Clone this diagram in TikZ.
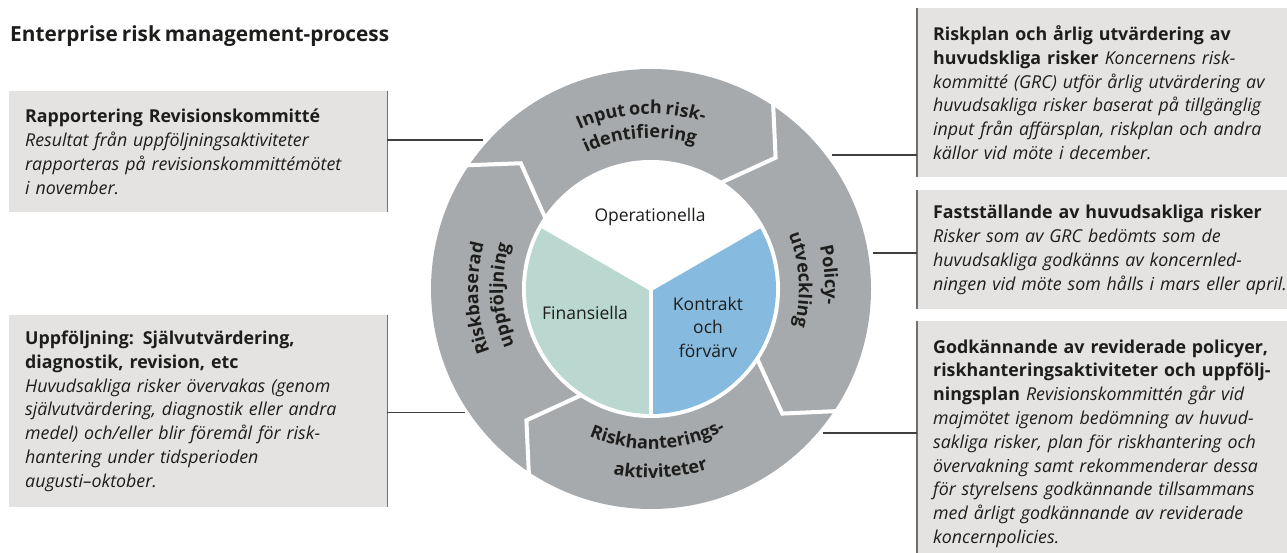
\documentclass[tikz,border=0pt]{standalone}
\usepackage{fontspec}
\setmainfont{Open Sans}[WordSpace=0.75]
\usetikzlibrary{decorations.text}

\definecolor{ringgray}{HTML}{A7AAAD}
\definecolor{boxgray}{HTML}{E4E3E1}
\definecolor{finance}{HTML}{BBD8D0}
\definecolor{contract}{HTML}{86BBDF}
\definecolor{edgegray}{HTML}{707070}
\definecolor{textblack}{HTML}{1D1D1B}

\newcommand{\boxfont}{\fontsize{17.8}{23.8}\selectfont}
\newcommand{\ringfont}{\fontsize{18}{20}\selectfont\bfseries}
\newcommand{\piefont}{\fontsize{17.5}{23.5}\selectfont}

\tikzset{
    infobox/.style={fill=boxgray, text=textblack, font=\boxfont, align=left,
        text width=362pt, inner xsep=16pt, inner ysep=4pt, anchor=north west},
    boxedge/.style={draw=edgegray, line width=1.5pt},
    conn/.style={draw=textblack!85, line width=1.1pt},
    sep/.style={draw=white, line width=4pt, line join=miter},
    pielabel/.style={text=textblack, font=\piefont, align=center},
    ringtext/.style={decorate, decoration={text along path, text align=center,
        text color=textblack, text={|\ringfont|#1}}}
}

\begin{document}
\begin{tikzpicture}[x=1pt,y=1pt]
    \useasboundingbox (0,0) rectangle (1287,553);
    \clip (0,0) rectangle (1287,553);

    % title
    \node[anchor=base west, inner sep=0, text=textblack, font=\fontsize{20.8}{24}\selectfont\bfseries]
        (title) at (10,511) {Enterprise risk management-process};

    % ring and chevrons
    \begin{scope}[shift={(651,264)}]
        \fill[ringgray] (0,0) circle (220pt);
        \foreach \a in {146.5,57,-33,-123} {
            \draw[sep] (\a:224pt) -- (\a-10.5:181pt) -- (\a:126pt);};
        % pie
        \fill[white] (0,0) circle (129pt);
        \fill[finance] (0,0) -- (150:125pt) arc (150:270:125pt) -- cycle;
        \fill[contract] (0,0) -- (270:125pt) arc (270:390:125pt) -- cycle;
        \foreach \a in {30,150,270} {
            \draw[sep] (0,0) -- (\a:127pt);};
        % ring labels
        \path[ringtext={Input och risk-}] (133.3:175pt) arc (133.3:53.3:175pt);
        \path[ringtext={identifiering}] (134.2:151pt) arc (134.2:54.2:151pt);
        \path[ringtext={Policy-}] (44.5:174pt) arc (44.5:-35.5:174pt);
        \path[ringtext={utveckling}] (43.5:148pt) arc (43.5:-36.5:148pt);
        \path[ringtext={Riskhanterings-}] (-127.5:160pt) arc (-127.5:-47.5:160pt);
        \path[ringtext={aktiviteter}] (-127:189pt) arc (-127:-47:189pt);
        \path[ringtext={Riskbaserad}] (223:173pt) arc (223:143:173pt);
        \path[ringtext={uppföljning}] (222.5:148pt) arc (222.5:142.5:148pt);
        % sector labels
        \node[pielabel] (oper) at (-1,72) {Operationella};
        \node[pielabel] (fin) at (-66,-24) {Finansiella};
        \node[pielabel] (kontr) at (57,-38) {Kontrakt\\och\\förvärv};
    \end{scope}

    % boxes left
    \node[infobox, text width=346pt, minimum height=121pt] (rapport) at (9,462)
        {\textbf{Rapportering Revisionskommitté}\\
        \itshape Resultat från uppföljningsaktiviteter\\
        rapporteras på revisionskommittémötet\\
        i november.};
    \node[infobox, text width=346pt, minimum height=192pt] (uppfolj) at (9,238)
        {\textbf{Uppföljning: Självutvärdering,}\\
        \textbf{diagnostik, revision, etc}\\
        \itshape Huvudsakliga risker övervakas (genom\\
        självutvärdering, diagnostik eller andra\\
        medel) och/eller blir föremål för risk-\\
        hantering under tidsperioden\\
        augusti–oktober.};
    % boxes right
    \node[infobox, minimum height=169pt] (riskplan) at (917,545)
        {\textbf{Riskplan och årlig utvärdering av}\\
        \textbf{huvudskliga risker} \textit{Koncernens risk-}\\
        \itshape kommitté (GRC) utför årlig utvärdering av\\
        huvudsakliga risker baserat på tillgänglig\\
        input från affärsplan, riskplan och andra\\
        källor vid möte i december.};
    \node[infobox, minimum height=119pt] (faststall) at (917,363)
        {\textbf{Fastställande av huvudsakliga risker}\\
        \itshape Risker som av GRC bedömts som de\\
        huvudsakliga godkänns av koncernled-\\
        ningen vid möte som hålls i mars eller april.};
    \node[infobox, minimum height=245pt] (godkann) at (917,232)
        {\textbf{Godkännande av reviderade policyer,}\\
        \textbf{riskhanteringsaktiviteter och uppfölj-}\\
        \textbf{ningsplan} \textit{Revisionskommittén går vid}\\
        \itshape majmötet igenom bedömning av huvud-\\
        sakliga risker, plan för riskhantering och\\
        övervakning samt rekommenderar dessa\\
        för styrelsens godkännande tillsammans\\
        med årligt godkännande av reviderade\\
        koncernpolicies.};

    % box edges
    \foreach \b in {rapport,uppfolj} {
        \draw[boxedge] (\b.north east) -- (\b.south east);};
    \foreach \b in {riskplan,faststall,godkann} {
        \draw[boxedge] (\b.north west) -- (\b.south west);};

    % connectors
    \coordinate (e1) at (483,413);
    \coordinate (e2) at (465,140.5);
    \coordinate (e3) at (832,398);
    \coordinate (e4) at (873,300);
    \coordinate (e5) at (823,120);
    \draw[conn] (rapport.east |- e1) -- (e1);
    \draw[conn] (uppfolj.east |- e2) -- (e2);
    \draw[conn] (riskplan.west |- e3) -- (e3);
    \draw[conn] (faststall.west |- e4) -- (e4);
    \draw[conn] (godkann.west |- e5) -- (e5);

\end{tikzpicture}
\end{document}
